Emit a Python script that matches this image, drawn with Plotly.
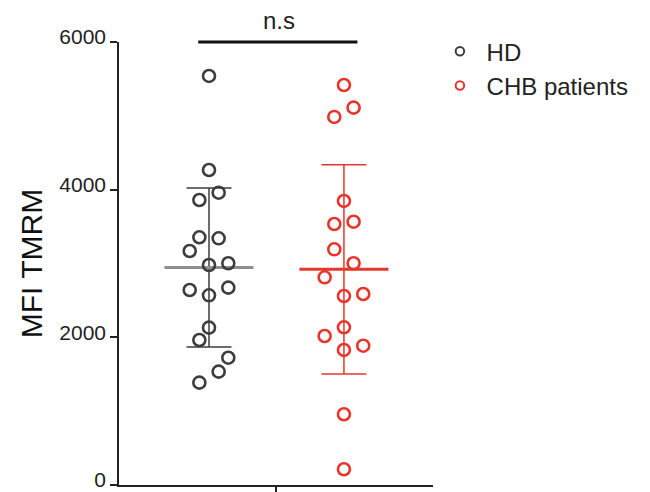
import numpy as np
import plotly.graph_objects as go

# ---- data ----
groups = ["HD", "CHB patients"]
hd_values = [5540, 4266, 3860, 3959, 3355, 3341, 3169, 2980, 3003,
             2641, 2673, 2569, 2131, 1964, 1724, 1535, 1386]
chb_values = [5418, 5111, 4985, 3847, 3535, 3566, 3192, 3003, 2813,
              2560, 2587, 2136, 2018, 1887, 1829, 958, 213]
y_ticks = [0, 2000, 4000, 6000]
y_title = "MFI TMRM"
sig_label = "n.s"

# ---- layout helpers (scatter slots, not data) ----
hd_slots = [0, 0, -1, 1, -1, 1, -2, 0, 2, -2, 2, 0, 0, -1, 2, 1, -1]
chb_slots = [0, 1, -1, 0, -1, 1, -1, 1, -2, 0, 2, 0, -2, 2, 0, 0, 0]
slot_w = 0.0715
positions = [1, 2]
colors = ["#3d3d3d", "#e8352b"]
mean_colors = ["#8f8f8f", "#e8352b"]
font = "Arial, Liberation Sans, sans-serif"

fig = go.Figure()

for pos, vals, slots, col, mcol, name in zip(
        positions, [hd_values, chb_values], [hd_slots, chb_slots],
        colors, mean_colors, groups):
    vals = np.array(vals, dtype=float)
    m = vals.mean()
    sd = vals.std(ddof=1)
    # error bar (mean +/- SD)
    cap = 0.167
    fig.add_trace(go.Scatter(
        x=[pos, pos, None, pos - cap, pos + cap, None, pos - cap, pos + cap],
        y=[m - sd, m + sd, None, m + sd, m + sd, None, m - sd, m - sd],
        mode="lines", line=dict(color=col, width=1.5),
        showlegend=False, hoverinfo="skip"))
    # mean line
    fig.add_trace(go.Scatter(
        x=[pos - 0.33, pos + 0.33], y=[m, m], mode="lines",
        line=dict(color=mcol, width=3), showlegend=False, hoverinfo="skip"))
    # points
    fig.add_trace(go.Scatter(
        x=[pos + s * slot_w for s in slots], y=vals, mode="markers",
        marker=dict(symbol="circle-open", size=12, color=col,
                    line=dict(color=col, width=2.6)),
        showlegend=False, name=name, cliponaxis=False))
    # legend entry
    fig.add_trace(go.Scatter(
        x=[None], y=[None], mode="markers", name=" " + name,
        marker=dict(symbol="circle-open", size=8.5, color=col,
                    line=dict(color=col, width=2))))

# significance bar
fig.add_shape(type="line", xref="x", yref="paper", x0=0.92, x1=2.10,
              y0=1, y1=1, line=dict(color="#111111", width=3))
fig.add_annotation(x=1.52, xref="x", y=1, yref="paper", yanchor="bottom",
                   yshift=6, text=sig_label, showarrow=False,
                   font=dict(family=font, size=24, color="#222222"))

fig.update_layout(
    width=650, height=492,
    margin=dict(l=119, r=217, t=42, b=7, autoexpand=False),
    paper_bgcolor="white", plot_bgcolor="white",
    font=dict(family=font, color="#222222"),
    legend=dict(x=1.022, y=1.029, xanchor="left", yanchor="top",
                font=dict(family=font, size=24, color="#222222"),
                bgcolor="rgba(0,0,0,0)", tracegroupgap=0),
    xaxis=dict(range=[0.333, 2.66], showgrid=False, zeroline=False,
               showline=True, linecolor="#222222", linewidth=1.5,
               tickmode="array", tickvals=[1.5], ticktext=[""],
               ticks="outside", ticklen=7, tickwidth=1.5,
               tickcolor="#222222"),
    yaxis=dict(range=[0, 6000], showgrid=False, zeroline=False,
               showline=True, linecolor="#222222", linewidth=1.5,
               tickmode="array", tickvals=y_ticks,
               ticks="outside", ticklen=7, tickwidth=1.5,
               tickcolor="#222222", ticklabeloverflow="allow",
               ticklabelshift=-5,
               tickfont=dict(family=font, size=21, color="#222222"),
               title=dict(text=y_title, standoff=8,
                          font=dict(family=font, size=30, color="#111111"))),
)

fig.write_html("out.html",
               config={"displayModeBar": False},
               post_script="document.body.style.margin='0';"
                           "document.body.style.overflow='hidden';")
